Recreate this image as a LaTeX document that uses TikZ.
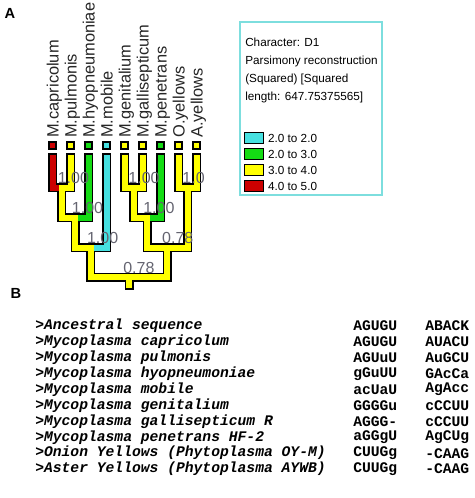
\documentclass[tikz,border=0pt]{standalone}
\usepackage{fontspec}
\setmainfont{Liberation Sans}
\newfontfamily\seqfont{Liberation Mono}
\usetikzlibrary{positioning}

\definecolor{stred}{RGB}{204,0,0}
\definecolor{styellow}{RGB}{255,255,0}
\definecolor{stgreen}{RGB}{20,220,20}
\definecolor{stcyan}{RGB}{70,225,225}
\definecolor{legendline}{RGB}{125,222,222}
\definecolor{supgray}{RGB}{100,100,112}

\begin{document}
\begin{tikzpicture}[x=0.75pt,y=-0.75pt,
  branchline/.style={line width=6.75pt,line cap=rect,draw=black},
  branchfill/.style={line width=4.5pt,line cap=rect,draw=#1},
  support/.style={anchor=west,inner sep=0pt,text=supgray,font=\fontsize{12}{12}\selectfont},
  taxon/.style={rotate=90,anchor=base west,inner sep=0pt,text=black!85,font=\fontsize{12.3}{13}\selectfont},
  tipbox/.style={draw=black,line width=1.2pt,fill=#1,minimum size=5pt,inner sep=0pt},
  swatch/.style={draw=black,line width=0.8pt,fill=#1,minimum width=14pt,minimum height=8.2pt,inner sep=0pt},
  legendtext/.style={inner sep=0pt,font=\fontsize{8.8}{10}\selectfont},
  seqname/.style={anchor=west,inner sep=0pt,font=\seqfont\bfseries\itshape\fontsize{11}{12}\selectfont},
  seqcode/.style={anchor=west,inner sep=0pt,font=\seqfont\bfseries\fontsize{11}{12}\selectfont},
  panel/.style={inner sep=0pt,font=\bfseries\fontsize{11}{12}\selectfont}]
\useasboundingbox (0,0) rectangle (474,498);

\node[panel] (panelA) at (10,13) {A};
\node[panel] (panelB) at (16,293) {B};

% taxa, state boxes and tips
\foreach \i/\x/\name/\col in {1/52.5/M.capricolum/stred,2/70.5/M.pulmonis/styellow,
    3/88.5/M.hyopneumoniae/stgreen,4/106.5/M.mobile/stcyan,5/124.5/M.genitalium/styellow,
    6/142.5/M.gallisepticum/styellow,7/160.5/M.penetrans/stgreen,8/178.5/O.yellows/styellow,
    9/196.5/A.yellows/styellow}{
  \node[taxon] (taxon\i) at (\x+6,138) {\name};
  \node[tipbox=\col] (box\i) at (\x,145.5) {};
  \coordinate (t\i) at (\x,158);
}

% internal nodes
\coordinate (n1) at (61.5,188);
\coordinate (n2) at (75,218);
\coordinate (n3) at (90.75,248);
\coordinate (n4) at (133.5,188);
\coordinate (n5) at (147,218);
\coordinate (n6) at (187.5,188);
\coordinate (n7) at (167.25,248);
\coordinate (root) at (129,277);
\coordinate (base) at (129,285);

% outline first, colours on top
\draw[branchline] (t1) |- (n1) (t2) |- (n1) (n1) |- (n2) (t3) |- (n2)
  (n2) |- (n3) (t4) |- (n3) (t5) |- (n4) (t6) |- (n4) (n4) |- (n5)
  (t7) |- (n5) (t8) |- (n6) (t9) |- (n6) (n5) |- (n7) (n6) |- (n7)
  (n3) |- (root) (n7) |- (root) (root) -- (base);
\draw[branchfill=stred] (t1) |- (n1);
\draw[branchfill=styellow] (t2) |- (n1);
\draw[branchfill=styellow] (n1) |- (n2);
\draw[branchfill=stgreen] (t3) |- (n2);
\draw[branchfill=styellow] (n2) |- (n3);
\draw[branchfill=stcyan] (t4) |- (n3);
\draw[branchfill=styellow] (t5) |- (n4);
\draw[branchfill=styellow] (t6) |- (n4);
\draw[branchfill=styellow] (n4) |- (n5);
\draw[branchfill=stgreen] (t7) |- (n5);
\draw[branchfill=styellow] (n5) |- (n7);
\draw[branchfill=styellow] (t8) |- (n6);
\draw[branchfill=styellow] (t9) |- (n6);
\draw[branchfill=styellow] (n6) |- (n7);
\draw[branchfill=styellow] (n3) |- (root);
\draw[branchfill=styellow] (n7) |- (root);
\draw[branchfill=styellow] (root) -- (base);

% support values
\node[support,xshift=-3pt,yshift=7.5pt] (s1) at (n1) {1.00};
\node[support,xshift=-2.5pt,yshift=7.5pt] (s2) at (n2) {1.00};
\node[support,xshift=-3pt,yshift=7.5pt] (s3) at (n3) {1.00};
\node[support,xshift=-4pt,yshift=7.5pt] (s4) at (n4) {1.00};
\node[support,xshift=-3pt,yshift=7.5pt] (s5) at (n5) {1.00};
\node[support,xshift=-4pt,yshift=7.5pt] (s6) at (n6) {1.0};
\node[support,xshift=-4pt,yshift=7.5pt] (s7) at (n7) {0.78};
\node[support,xshift=-4.5pt,yshift=7pt] (s8) at (root) {0.78};

% legend
\draw[legendline,line width=1.2pt] (240,22) rectangle (382,195);
\node[legendtext,anchor=base west] (leg1) at (245,47) {Character: D1};
\node[legendtext,anchor=base west] (leg2) at (245,65) {Parsimony reconstruction};
\node[legendtext,anchor=base west] (leg3) at (245,83) {(Squared) [Squared};
\node[legendtext,anchor=base west] (leg4) at (245,101) {length: 647.75375565]};
\node[swatch=stcyan] (sw1) at (254,138) {};
\node[swatch=stgreen] (sw2) at (254,154) {};
\node[swatch=styellow] (sw3) at (254,170) {};
\node[swatch=stred] (sw4) at (254,186) {};
\node[legendtext,right=3pt of sw1] (key1) {2.0 to 2.0};
\node[legendtext,right=3pt of sw2] (key2) {2.0 to 3.0};
\node[legendtext,right=3pt of sw3] (key3) {3.0 to 4.0};
\node[legendtext,right=3pt of sw4] (key4) {4.0 to 5.0};

% sequences
\foreach \i/\name/\sa/\sb in {0/Ancestral sequence/AGUGU/ABACK,
    1/Mycoplasma capricolum/AGUGU/AUACU,2/Mycoplasma pulmonis/AGUuU/AuGCU,
    3/Mycoplasma hyopneumoniae/gGuUU/GAcCa,4/Mycoplasma mobile/acUaU/AgAcc,
    5/Mycoplasma genitalium/GGGGu/cCCUU,6/Mycoplasma gallisepticum R/AGGG-/cCCUU,
    7/Mycoplasma penetrans HF-2/aGGgU/AgCUg,8/Onion Yellows (Phytoplasma OY-M)/CUUGg/-CAAG,
    9/Aster Yellows (Phytoplasma AYWB)/CUUGg/-CAAG}{
  \node[seqname] (name\i) at (35,{326+15.9*\i}) {>\name};
  \node[seqcode] (seqa\i) at (353,{326+15.9*\i}) {\sa};
  \node[seqcode] (seqb\i) at (425,{326+15.9*\i}) {\sb};
}
\end{tikzpicture}
\end{document}
